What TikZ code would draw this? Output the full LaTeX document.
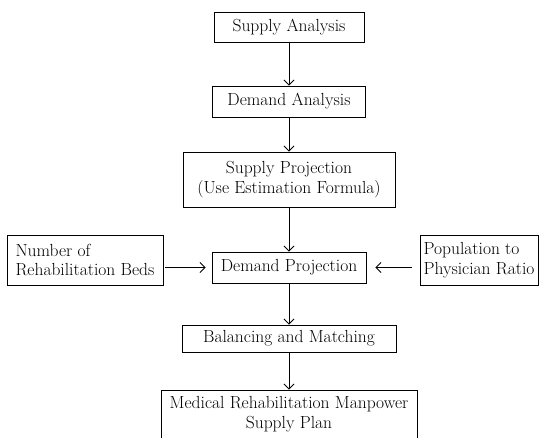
\documentclass[tikz,border=0pt]{standalone}
\usetikzlibrary{arrows.meta}
\begin{document}
\begin{tikzpicture}[x=1pt,y=-1pt,>={Straight Barb[length=5pt,width=10pt]},
  box/.style={draw,line width=0.9pt,inner sep=2pt,font=\fontsize{17.5}{19.5}\selectfont,align=center},
  flow/.style={->,line width=0.8pt}]
\fill[white](0,0)rectangle(540,437);
\useasboundingbox(0,0)rectangle(540,437);
\node[box,minimum width=150,minimum height=30](sa)at(289,27){Supply Analysis};
\node[box,minimum width=153,minimum height=31](da)at(289,101.5){Demand Analysis};
\node[box,minimum width=212,minimum height=55](sp)at(289,179.5){Supply Projection\\(Use Estimation Formula)};
\node[box,minimum width=154,minimum height=31](dp)at(289,267.5){Demand Projection};
\node[box,align=left,minimum width=156,minimum height=50](beds)at(85,260){Number of\\Rehabilitation Beds};
\node[box,align=left,minimum width=118,minimum height=50](pop)at(479,260){Population to\\Physician Ratio};
\node[box,minimum width=214,minimum height=27](bal)at(289,338.5){Balancing and Matching};
\node[box,minimum width=256,minimum height=48](plan)at(289,414){Medical Rehabilitation Manpower\\Supply Plan};
\draw[flow](sa)--(da);
\draw[flow](da)--(sp);
\draw[flow](sp)--(dp);
\draw[flow](dp)--(bal);
\draw[flow](bal)--(plan);
\draw[flow,shorten <=2pt,shorten >=6pt](beds.east|-dp.west)--(dp.west);
\draw[flow,shorten <=8pt,shorten >=9pt](pop.west|-dp.east)--(dp.east);
\end{tikzpicture}
\end{document}
